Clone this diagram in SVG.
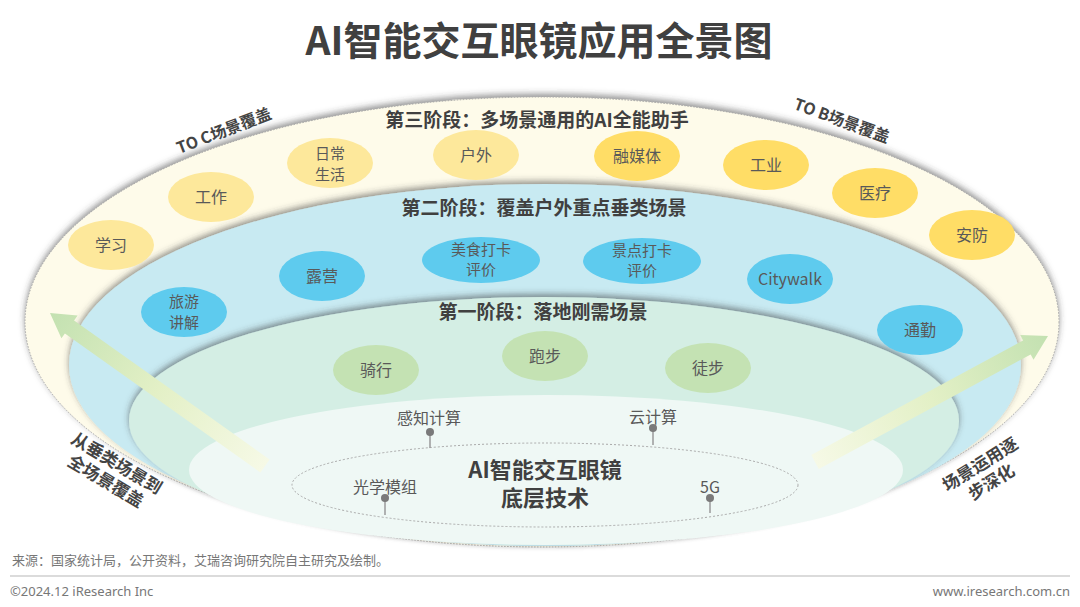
<svg xmlns="http://www.w3.org/2000/svg" width="1080" height="607" viewBox="0 0 1080 607">
<defs>
<style>
text{font-family:"Noto Sans CJK SC","Noto Sans",sans-serif;text-anchor:middle}
.n{font-size:16px;fill:#595959}
.n2{font-size:15px;fill:#595959}
.st{font-size:19px;font-weight:bold;fill:#404040}
.lab{font-size:16px;font-weight:bold;fill:#444}
.y1{fill:#FDE89B}
.y2{fill:#FFDD66}
.bl{fill:#5ECBEE}
.gn{fill:#C4E2B3}
.pin{fill:#7a7a7a}
.pl{stroke:#9a9a9a;stroke-width:1.5}
.ft{font-size:13px;fill:#777;text-anchor:start}
</style>
<filter id="sh" x="-5%" y="-15%" width="110%" height="130%">
<feDropShadow dx="0" dy="-3" stdDeviation="3" flood-color="#3a3a3a" flood-opacity="0.55"/>
</filter>
<linearGradient id="gl" gradientUnits="userSpaceOnUse" x1="265" y1="466" x2="50" y2="313">
<stop offset="0" stop-color="#F6F9E6"/><stop offset="0.5" stop-color="#E3F0C6"/><stop offset="1" stop-color="#C3E1B1"/>
</linearGradient>
<linearGradient id="gr" gradientUnits="userSpaceOnUse" x1="815" y1="462" x2="1048" y2="336">
<stop offset="0" stop-color="#F6F9E6"/><stop offset="0.5" stop-color="#E3F0C6"/><stop offset="1" stop-color="#C3E1B1"/>
</linearGradient>
</defs>
<rect width="1080" height="607" fill="#fff"/>

<text x="539" y="55" style="font-size:39px;font-weight:bold;fill:#404040">AI智能交互眼镜应用全景图</text>

<g id="layers">
<ellipse cx="542" cy="322" rx="517" ry="225" fill="#FEFBEA" stroke="#9a9a9a" stroke-width="0.8" stroke-dasharray="1.5 1.5" filter="url(#sh)"/>
<ellipse cx="545" cy="365" rx="476" ry="181" fill="#C8EAF2" filter="url(#sh)"/>
<ellipse cx="544" cy="421" rx="415" ry="124" fill="#D4EEE4" filter="url(#sh)"/>
<ellipse cx="546" cy="470" rx="357" ry="75" fill="#EFF8F5"/>
<ellipse cx="545" cy="485" rx="253" ry="42" fill="none" stroke="#aaa" stroke-width="1" stroke-dasharray="2 2"/>
</g>

<g id="stage-labels">
<text class="st" x="537" y="127">第三阶段：多场景通用的AI全能助手</text>
<text class="st" x="544" y="215">第二阶段：覆盖户外重点垂类场景</text>
<text class="st" x="543" y="319">第一阶段：落地刚需场景</text>
<text class="lab" transform="translate(226,136) rotate(-21)">TO C场景覆盖</text>
<text class="lab" transform="translate(840,126) rotate(20)">TO B场景覆盖</text>
<g transform="translate(112,471) rotate(31)">
<text class="lab" style="font-size:17px" x="0" y="-3">从垂类场景到</text>
<text class="lab" style="font-size:17px" x="0" y="18">全场景覆盖</text>
</g>
<g transform="translate(985,472) rotate(-32)">
<text class="lab" style="font-size:17px" x="0" y="-3">场景运用逐</text>
<text class="lab" style="font-size:17px" x="0" y="18">步深化</text>
</g>
</g>

<g id="node-xuexi"><ellipse class="y1" cx="111" cy="245" rx="43" ry="25"/><text class="n" x="111" y="251">学习</text></g>
<g id="node-gongzuo"><ellipse class="y1" cx="211" cy="197" rx="43" ry="25"/><text class="n" x="211" y="203">工作</text></g>
<g id="node-richang"><ellipse class="y1" cx="330" cy="163" rx="43" ry="25"/><text class="n2" x="330" y="159">日常</text><text class="n2" x="330" y="180">生活</text></g>
<g id="node-huwai"><ellipse class="y1" cx="476" cy="155" rx="43" ry="25"/><text class="n" x="476" y="161">户外</text></g>
<g id="node-rongmeiti"><ellipse class="y2" cx="637" cy="156" rx="43" ry="25"/><text class="n" x="637" y="162">融媒体</text></g>
<g id="node-gongye"><ellipse class="y2" cx="766" cy="165" rx="43" ry="25"/><text class="n" x="766" y="171">工业</text></g>
<g id="node-yiliao"><ellipse class="y2" cx="875" cy="193" rx="43" ry="25"/><text class="n" x="875" y="199">医疗</text></g>
<g id="node-anfang"><ellipse class="y2" cx="972" cy="235" rx="43" ry="25"/><text class="n" x="972" y="241">安防</text></g>

<g id="node-lvyou"><ellipse class="bl" cx="184" cy="312" rx="43" ry="25"/><text class="n2" x="184" y="307">旅游</text><text class="n2" x="184" y="328">讲解</text></g>
<g id="node-luying"><ellipse class="bl" cx="322" cy="276" rx="43" ry="25"/><text class="n" x="322" y="282">露营</text></g>
<g id="node-meishi"><ellipse class="bl" cx="481" cy="260" rx="59" ry="23"/><text class="n2" x="481" y="255">美食打卡</text><text class="n2" x="481" y="275">评价</text></g>
<g id="node-jingdian"><ellipse class="bl" cx="642" cy="261" rx="59" ry="23"/><text class="n2" x="642" y="256">景点打卡</text><text class="n2" x="642" y="276">评价</text></g>
<g id="node-citywalk"><ellipse class="bl" cx="790" cy="279" rx="43" ry="25"/><text class="n" x="790" y="285">Citywalk</text></g>
<g id="node-tongqin"><ellipse class="bl" cx="920" cy="330" rx="43" ry="25"/><text class="n" x="920" y="336">通勤</text></g>

<g id="node-qixing"><ellipse class="gn" cx="376" cy="370" rx="43" ry="25"/><text class="n" x="376" y="376">骑行</text></g>
<g id="node-paobu"><ellipse class="gn" cx="545" cy="356" rx="43" ry="25"/><text class="n" x="545" y="362">跑步</text></g>
<g id="node-tubu"><ellipse class="gn" cx="708" cy="368" rx="43" ry="25"/><text class="n" x="708" y="374">徒步</text></g>

<g id="node-core"><text x="545" y="478" style="font-size:22px;font-weight:bold;fill:#404040">AI智能交互眼镜</text><text x="545" y="506" style="font-size:22px;font-weight:bold;fill:#404040">底层技术</text></g>
<g id="node-ganzhi"><text class="n" x="429" y="424">感知计算</text><line class="pl" x1="430" y1="432" x2="430" y2="448"/><circle class="pin" cx="430" cy="432" r="4"/></g>
<g id="node-yunjisuan"><text class="n" x="653" y="423">云计算</text><line class="pl" x1="653" y1="428" x2="653" y2="445"/><circle class="pin" cx="653" cy="428" r="4"/></g>
<g id="node-guangxue"><text class="n" x="385" y="493">光学模组</text><line class="pl" x1="385" y1="498" x2="385" y2="515"/><circle class="pin" cx="385" cy="498" r="4"/></g>
<g id="node-5g"><text class="n" x="710" y="493">5G</text><line class="pl" x1="710" y1="498" x2="710" y2="513"/><circle class="pin" cx="710" cy="498" r="4"/></g>

<g id="connectors">
<polygon fill="url(#gl)" points="269.6,459.5 74.1,320.4 77.6,315.5 50,313 61.4,338.3 64.9,333.4 260.4,472.5"/>
<polygon fill="url(#gr)" points="811.2,455 1023.1,340.4 1020.3,335.1 1048,336 1033.5,359.7 1030.7,354.4 818.8,469"/>
</g>

<g id="footer">
<text class="ft" x="12" y="565">来源：国家统计局，公开资料，艾瑞咨询研究院自主研究及绘制。</text>
<line x1="10" y1="576" x2="1070" y2="576" stroke="#cfcfcf" stroke-width="1.5"/>
<text class="ft" x="10" y="596" style="font-family:'Noto Sans','Open Sans',sans-serif">©2024.12 iResearch Inc</text>
<text class="ft" x="1070" y="596" style="text-anchor:end;font-family:'Noto Sans','Open Sans',sans-serif">www.iresearch.com.cn</text>
</g>
</svg>
